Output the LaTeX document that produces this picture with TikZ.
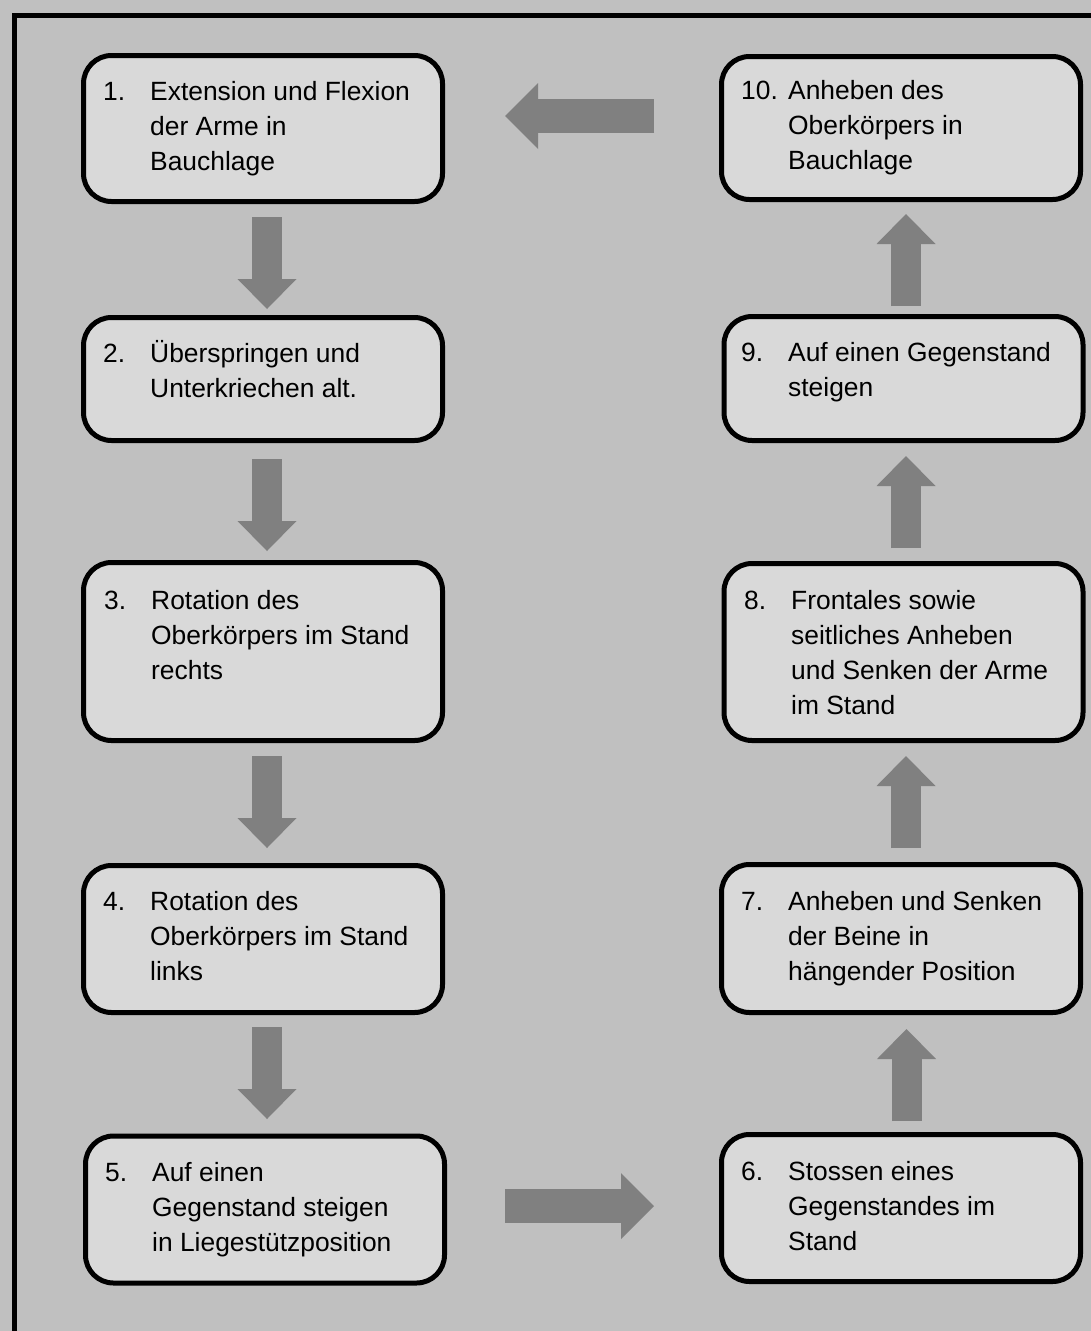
\documentclass[tikz,border=0pt]{standalone}
\usepackage{fontspec}
\setmainfont{Liberation Sans}
\usetikzlibrary{arrows.meta,positioning,calc}
\definecolor{Backdrop}{HTML}{C0C0C0}
\definecolor{Panel}{HTML}{D9D9D9}
\definecolor{Flow}{HTML}{808080}
\newcommand{\stagelines}[2]{\begin{tabular}[t]{@{}p{47pt}@{}l@{}}#1&#2\end{tabular}}

\begin{document}
\begin{tikzpicture}[x=1pt,y=-1pt,
    stage/.style={draw=black,line width=5pt,fill=Panel,rounded corners=28pt,
      minimum width=359pt,inner sep=0pt,outer sep=2.5pt},
    stagetext/.style={anchor=base west,inner sep=0pt,font=\fontsize{26.4}{35}\selectfont},
    vflow/.style={draw=Flow,line width=30pt,-{Triangle[length=30pt,width=59pt,line width=0pt]}},
    hflow/.style={draw=Flow,line width=34pt,-{Triangle[length=33pt,width=66pt,line width=0pt]}}]
  \useasboundingbox (0,0) rectangle (1091,1331);
  \clip (0,0) rectangle (1091,1331);
  \fill[Backdrop] (0,0) rectangle (1091,1331);
  \draw[line width=4.5pt] (14.5,1345) |- (1105,15.5);

  % left column, top to bottom
  \node[stage,minimum height=146pt] (s1) at (263,128.5) {};
  \node[stage,minimum height=123pt] (s2) at (263,379) {};
  \node[stage,minimum height=178pt] (s3) at (263,651.5) {};
  \node[stage,minimum height=147pt] (s4) at (263,939) {};
  \node[stage,minimum height=147pt] (s5) at (265,1209.5) {};
  % right column, bottom to top
  \node[stage,minimum height=147pt] (s6) at (901,1208) {};
  \node[stage,minimum height=148pt] (s7) at (901,938.5) {};
  \node[stage,minimum height=177pt] (s8) at (903.5,652) {};
  \node[stage,minimum height=124pt] (s9) at (903.5,378.5) {};
  \node[stage,minimum height=143pt] (s10) at (901,128) {};

  \node[stagetext] (t1) at (103,100) {\stagelines{1.}{Extension und Flexion\\&der Arme in\\&Bauchlage}};
  \node[stagetext] (t2) at (103,362) {\stagelines{2.}{Überspringen und\\&Unterkriechen alt.}};
  \node[stagetext] (t3) at (104,609) {\stagelines{3.}{Rotation des\\&Oberkörpers im Stand\\&rechts}};
  \node[stagetext] (t4) at (103,910) {\stagelines{4.}{Rotation des\\&Oberkörpers im Stand\\&links}};
  \node[stagetext] (t5) at (105,1181) {\stagelines{5.}{Auf einen\\&Gegenstand steigen\\&in Liegestützposition}};
  \node[stagetext] (t6) at (741,1180) {\stagelines{6.}{Stossen eines\\&Gegenstandes im\\&Stand}};
  \node[stagetext] (t7) at (741,910) {\stagelines{7.}{Anheben und Senken\\&der Beine in\\&hängender Position}};
  \node[stagetext] (t8) at (744,609) {\stagelines{8.}{Frontales sowie\\&seitliches Anheben\\&und Senken der Arme\\&im Stand}};
  \node[stagetext] (t9) at (741,361) {\stagelines{9.}{Auf einen Gegenstand\\&steigen}};
  \node[stagetext] (t10) at (741,99) {\stagelines{10.}{Anheben des\\&Oberkörpers in\\&Bauchlage}};

  % block arrows
  \draw[vflow,shorten <=13pt,shorten >=6pt] ([xshift=4pt]s1.south) -- ([xshift=4pt]s1.south |- s2.north);
  \draw[vflow,shorten <=16pt,shorten >=9pt] ([xshift=4pt]s2.south) -- ([xshift=4pt]s2.south |- s3.north);
  \draw[vflow,shorten <=13pt,shorten >=15pt] ([xshift=4pt]s3.south) -- ([xshift=4pt]s3.south |- s4.north);
  \draw[vflow,shorten <=12pt,shorten >=14.5pt] ([xshift=4pt]s4.south) -- ([xshift=4pt]s4.south |- s5.north);
  \draw[hflow,shorten <=58pt,shorten >=65pt] ([yshift=3.5pt]s5.east) -- ([yshift=3.5pt]s5.east -| s6.west);
  \draw[vflow,shorten <=11pt,shorten >=14pt] ([xshift=5.5pt]s6.north) -- ([xshift=5.5pt]s6.north |- s7.south);
  \draw[vflow,shorten <=14pt,shorten >=13pt] ([xshift=5pt]s7.north) -- ([xshift=5pt]s7.north |- s8.south);
  \draw[vflow,shorten <=13pt,shorten >=13pt] ([xshift=2.5pt]s8.north) -- ([xshift=2.5pt]s8.north |- s9.south);
  \draw[vflow,shorten <=8pt,shorten >=12pt] ([xshift=2.5pt]s9.north) -- ([xshift=2.5pt]s9.north |- s10.south);
  \draw[hflow,shorten <=65pt,shorten >=60pt] ([yshift=12pt]s10.west) -- ([yshift=12pt]s10.west -| s1.east);
\end{tikzpicture}
\end{document}
